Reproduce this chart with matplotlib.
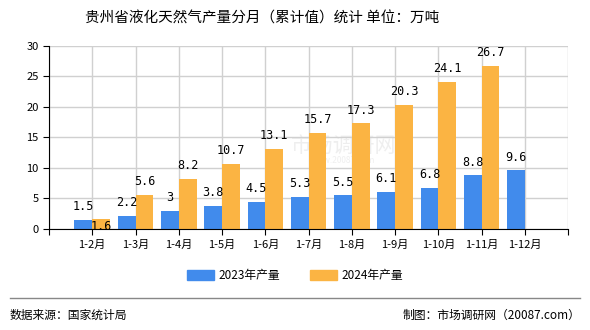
import numpy as np
import matplotlib.pyplot as plt
from matplotlib.patches import Patch

plt.rcParams['font.family'] = ['Noto Sans CJK SC', 'DejaVu Sans']

months = ['1-2月', '1-3月', '1-4月', '1-5月', '1-6月', '1-7月',
          '1-8月', '1-9月', '1-10月', '1-11月', '1-12月']
v2023 = [1.5, 2.2, 3, 3.8, 4.5, 5.3, 5.5, 6.1, 6.8, 8.8, 9.6]
v2024 = [1.6, 5.6, 8.2, 10.7, 13.1, 15.7, 17.3, 20.3, 24.1, 26.7]
yticks = [0, 5, 10, 15, 20, 25, 30]

blue = '#418bec'
orange = '#fbb443'
w = 0.41

fig = plt.figure(figsize=(5.9, 3.3), dpi=100)
ax = fig.add_axes([0.083, 0.306, 0.880, 0.555])

x = np.arange(len(months))
ax.bar(x[:len(v2023)] - w / 2, v2023, w, color=blue, zorder=3)
ax.bar(x[:len(v2024)] + w / 2, v2024, w, color=orange, zorder=3)

# value labels above each bar
for i, v in enumerate(v2023):
    ax.text(i - w / 2, v + 1.1, f'{v:g}', ha='center', va='bottom',
            fontsize=8.5, family='DejaVu Sans Mono', zorder=4)
for i, v in enumerate(v2024):
    y = v + 1.1
    if i == 0:
        y = -0.6   # pushed down so it does not collide with its neighbour
    ax.text(i + w / 2, y, f'{v:g}', ha='center', va='bottom',
            fontsize=8.5, family='DejaVu Sans Mono', zorder=4)

ax.set_xlim(-1, len(months))
ax.set_ylim(0, 30)
ax.set_yticks(yticks)
ax.set_xticks(np.arange(-1, len(months) + 1))
ax.set_xticklabels([''] + months + [''])
ax.tick_params(axis='both', labelsize=8, length=4, color='black')
ax.grid(True, color='#d0d0d0', linewidth=1, zorder=0)
for s in ['top', 'right']:
    ax.spines[s].set_visible(False)
ax.spines['left'].set_color('black')
ax.spines['bottom'].set_color('black')
ax.spines['left'].set_zorder(5)
ax.spines['bottom'].set_zorder(5)

# faint site watermark
ax.text(5.8, 13.6, '市场调研网', fontsize=15, color='#e4e4e4', ha='center',
        va='center', alpha=0.6, zorder=1)
ax.text(5.8, 11.3, 'www.20087.com', fontsize=6, color='#e4e4e4', ha='center',
        va='center', alpha=0.6, zorder=1)

fig.text(0.445, 0.945, '贵州省液化天然气产量分月（累计值）统计 单位：万吨',
         ha='center', va='center', fontsize=10.5)

handles = [Patch(color=blue), Patch(color=orange)]
fig.legend(handles, ['2023年产量', '2024年产量'], loc='center',
           bbox_to_anchor=(0.5, 0.165), ncol=2, frameon=False, fontsize=8.5,
           handlelength=2.3, handleheight=0.9, columnspacing=2.5,
           handletextpad=0.4)

fig.add_artist(plt.Line2D([0.017, 0.983], [0.097, 0.097], color='#888888',
                          linewidth=1))
fig.text(0.017, 0.045, '数据来源：国家统计局', ha='left', va='center', fontsize=8.5)
fig.text(0.983, 0.045, '制图：市场调研网（20087.com）', ha='right', va='center',
         fontsize=8.5)

fig.savefig('out.png', dpi=100)
